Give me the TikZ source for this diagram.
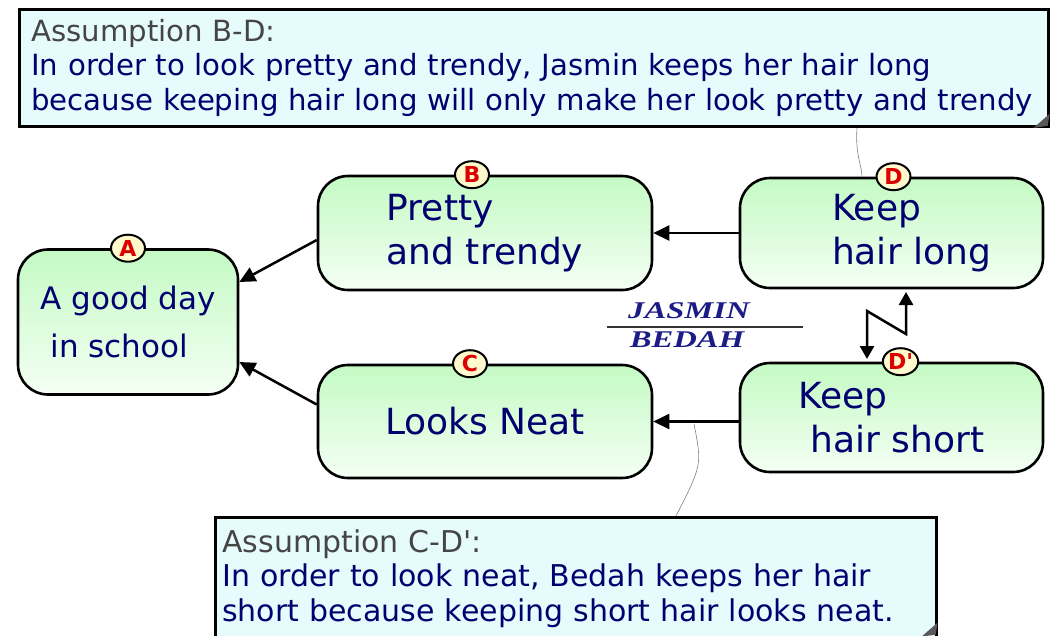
\documentclass[tikz,border=0pt]{standalone}
\usepackage{fontspec}
\setmainfont{DejaVu Sans}
\newfontfamily\namefont{Liberation Serif}
\usetikzlibrary{shapes, arrows.meta, positioning}
\definecolor{ink}{HTML}{00006E}
\definecolor{headgray}{HTML}{454545}
\definecolor{notefill}{HTML}{E6FCFC}
\definecolor{boxtop}{HTML}{C4FAC4}
\definecolor{boxbot}{HTML}{F4FFF4}
\definecolor{tagfill}{HTML}{FFFACD}
\definecolor{tagred}{HTML}{DD0000}
\definecolor{namecol}{HTML}{1C1C86}
\tikzset{
	idea/.style={draw, line width=2.6pt, rounded corners=30pt, top color=boxtop, bottom color=boxbot, text=ink, align=left, font=\fontsize{36}{44}\selectfont},
	tag/.style={ellipse, draw, line width=2pt, fill=tagfill, text=tagred, inner sep=0pt, minimum width=34pt, minimum height=27pt, font=\fontsize{22}{22}\selectfont\bfseries},
	note/.style={draw, line width=2.6pt, fill=notefill, anchor=north west, align=left, text=ink, font=\fontsize{30}{34.5}\selectfont},
	link/.style={line width=2.5pt, -{Triangle[length=16pt,width=15pt]}},
	lead/.style={gray, line width=0.6pt}
}
\begin{document}
\begin{tikzpicture}[x=1pt, y=-1pt]
	\fill[white] (0,0) rectangle (1051,635);
	\useasboundingbox (0,0) rectangle (1051,635);
	% boxes
	\node[idea, font=\fontsize{31}{48}\selectfont, minimum width=220pt, minimum height=145pt] (A) at (128,322) {A good day\\\hspace{10pt}in school};
	\node[idea, minimum width=334pt, minimum height=114pt] (B) at (485,233) {Pretty\\and trendy};
	\node[idea, minimum width=334pt, minimum height=113pt] (C) at (485,421.5) {Looks Neat};
	\node[idea, minimum width=303pt, minimum height=110pt] (D) at (891.5,233) {\hspace*{40pt}Keep\\\hspace*{40pt}hair long};
	\node[idea, minimum width=303pt, minimum height=109pt] (Dp) at (891.5,417.5) {Keep\\\hspace{12pt}hair short};
	\node[tag] (tA) at (A.north) {A};
	\node[tag] (tB) at ([xshift=-13pt]B.north) {B};
	\node[tag] (tC) at ([xshift=-15pt]C.north) {C};
	\node[tag] (tD) at ([xshift=2pt]D.north) {D};
	\node[tag] (tDp) at ([xshift=9pt]Dp.north) {D\textquotesingle};
	% arrows
	\draw[link] (D.west) -- (B.east);
	\draw[link] (Dp.west |- C.east) -- (C.east);
	\draw[link] ([yshift=-7pt]B.west) -- ([yshift=40pt]A.east);
	\draw[link] ([yshift=17pt]C.west) -- ([yshift=-40pt]A.east);
	\coordinate (zTop) at (906,292);
	\coordinate (zBot) at (867,359);
	\draw[line width=2.5pt, {Triangle[length=13pt,width=14pt]}-{Triangle[length=13pt,width=14pt]}] (zBot) -- (867,311) -- (906,334) -- (zTop);
	% names
	\node[text=namecol, font=\namefont\fontsize{24}{24}\selectfont\bfseries\itshape] (jas) at (689,311) {\scalebox{1.36}[1]{JASMIN}};
	\node[text=namecol, font=\namefont\fontsize{24}{24}\selectfont\bfseries\itshape] (bed) at (687,340) {\scalebox{1.36}[1]{BEDAH}};
	\draw[line width=1.2pt, black!80] (607,327) -- (803,327);
	% assumptions
	\node[note, font=\fontsize{29.2}{34.5}\selectfont, inner xsep=12pt, inner ysep=10pt, text width=1005pt] (noteBD) at (18,8) {{\color{headgray}Assumption B-D:}\\In order to look pretty and trendy, Jasmin keeps her hair long\\\mbox{because keeping hair long will only make her look pretty and trendy}};
	\node[note, inner xsep=7pt, text width=707pt, minimum height=122pt] (noteCD) at (214,516) {{\color{headgray}Assumption C-D\textquotesingle:}\\In order to look neat, Bedah keeps her hair\\short because keeping short hair looks neat.};
	\fill[black!65] ([xshift=-16pt]noteBD.south east) -- ([yshift=14pt]noteBD.south east) -- ([xshift=-2pt,yshift=2pt]noteBD.south east) -- cycle;
	\fill[black!65] ([xshift=-16pt,yshift=4pt]noteCD.south east) -- ([yshift=18pt]noteCD.south east) -- ([xshift=-2pt,yshift=6pt]noteCD.south east) -- cycle;
	\coordinate (leadTop) at (noteBD.south -| 857,0);
	\coordinate (leadBot) at (694,424);
	\draw[lead] (leadTop) .. controls (855,155) and (862,165) .. (862,177);
	\draw[lead] (leadBot) .. controls (702,465) .. (676,516);
\end{tikzpicture}
\end{document}
